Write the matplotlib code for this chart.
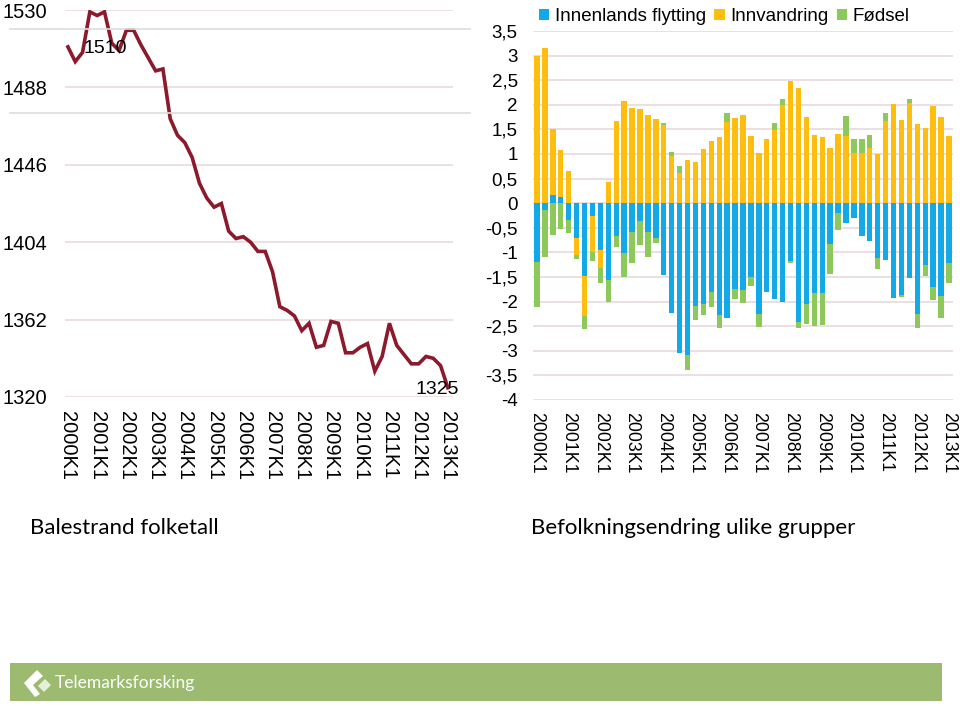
import numpy as np
import matplotlib.pyplot as plt
from matplotlib.lines import Line2D
from matplotlib.patches import Rectangle, Polygon

# quarters 2000K1 .. 2013K1
quarters = [f"{y}K{q}" for y in range(2000, 2014) for q in range(1, 5)][:53]

folketall = [1510, 1502, 1507, 1529, 1527, 1529, 1512, 1508, 1519, 1519,
             1511, 1504, 1497, 1498, 1471, 1462, 1458, 1450, 1436, 1428,
             1423, 1425, 1410, 1406, 1407, 1404, 1399, 1399, 1388, 1369,
             1367, 1364, 1356, 1360, 1347, 1348, 1361, 1360, 1344, 1344,
             1347, 1349, 1334, 1342, 1360, 1348, 1343, 1338, 1338, 1342,
             1341, 1337, 1325]

innenlands = [-1.19, -0.13, 0.16, 0.13, -0.34, -0.70, -1.48, -0.26, -0.95, -1.56,
              -0.67, -1.02, -0.58, -0.36, -0.58, -0.70, -1.46, -2.24, -3.05, -3.08,
              -2.09, -2.05, -1.80, -2.27, -2.34, -1.75, -1.76, -1.49, -2.25, -1.80,
              -1.95, -2.00, -1.18, -2.41, -2.05, -1.82, -1.82, -0.82, -0.20, -0.40,
              -0.31, -0.67, -0.76, -1.12, -1.16, -1.93, -1.86, -1.53, -2.25, -1.26,
              -1.71, -1.89, -1.22]
innvandring = [2.99, 3.15, 1.35, 0.96, 0.65, -0.35, -0.82, -0.73, -0.37, 0.43,
               1.68, 2.07, 1.94, 1.91, 1.80, 1.71, 1.58, 0.95, 0.61, 0.87,
               0.84, 1.11, 1.26, 1.34, 1.65, 1.74, 1.80, 1.36, 1.03, 1.30,
               1.48, 2.00, 2.49, 2.34, 1.76, 1.39, 1.34, 1.13, 1.40, 1.36,
               1.03, 1.03, 1.12, 0.99, 1.67, 2.02, 1.70, 2.03, 1.60, 1.53,
               1.97, 1.75, 1.36]
fodsel = [-0.91, -0.96, -0.65, -0.53, -0.27, -0.09, -0.25, -0.19, -0.31, -0.45,
          -0.22, -0.49, -0.63, -0.48, -0.51, -0.10, 0.06, 0.10, 0.14, -0.31,
          -0.28, -0.22, -0.30, -0.27, 0.18, -0.20, -0.27, -0.19, -0.27, 0.0,
          0.15, 0.12, -0.04, -0.12, -0.40, -0.67, -0.65, -0.62, -0.35, 0.41,
          0.28, 0.28, 0.27, -0.22, 0.17, 0.0, -0.04, 0.09, -0.29, -0.22,
          -0.26, -0.45, -0.41]

series = [("Innenlands flytting", innenlands, "#12A9E6"),
          ("Innvandring", innvandring, "#FDBE10"),
          ("Fødsel", fodsel, "#8DC85A")]

plt.rcParams['font.family'] = ['Liberation Sans', 'DejaVu Sans']

fig = plt.figure(figsize=(9.6, 7.07), dpi=100)
W, H = 960, 707


def box(x0, y0, x1, y1):
    return [x0 / W, 1 - y1 / H, (x1 - x0) / W, (y1 - y0) / H]


# ---- left: folketall line
ax1 = fig.add_axes(box(65, 10, 453, 397))
x = np.arange(len(folketall))
ax1.plot(x, folketall, color="#8B1A2C", lw=2.6, solid_joinstyle='miter')
ax1.set_xlim(-0.4, 52.7)
ax1.set_ylim(1320, 1530)
ax1.set_yticks(np.arange(1320, 1531, 42))
ax1.set_xticks(x[::4])
ax1.set_xticklabels(quarters[::4], rotation=270, fontsize=14.5)
ax1.tick_params(axis='y', labelsize=14.5, pad=13)
ax1.tick_params(length=0)
ax1.tick_params(axis='x', pad=10)
ax1.grid(axis='y', color="#EBD9DE", lw=1.2)
ax1.set_axisbelow(True)
for s in ax1.spines.values():
    s.set_visible(False)
ax1.annotate(str(folketall[0]), (0, folketall[0]), xytext=(37, -2),
             textcoords='offset pixels', ha='center', va='center', fontsize=14)
ax1.annotate(str(folketall[-1]), (52, folketall[-1]), xytext=(-11, -2),
             textcoords='offset pixels', ha='center', va='center', fontsize=14)

# ---- right: stacked bars
ax2 = fig.add_axes(box(533, 31, 953, 400))
xb = np.arange(len(innenlands))
pos_base = np.zeros(len(xb))
neg_base = np.zeros(len(xb))
for name, vals, col in series:
    v = np.array(vals)
    bottom = np.where(v >= 0, pos_base, neg_base)
    ax2.bar(xb, v, bottom=bottom, width=0.68, color=col, label=name)
    pos_base = pos_base + np.clip(v, 0, None)
    neg_base = neg_base + np.clip(v, None, 0)
ax2.set_xlim(-0.5, 52.5)
ax2.set_ylim(-4, 3.5)
yt = np.arange(-4, 3.51, 0.5)
ax2.set_yticks(yt)
ax2.set_yticklabels([f"{t:g}".replace('.', ',') for t in yt])
ax2.set_xticks(xb[::4])
ax2.set_xticklabels(quarters[::4], rotation=270, fontsize=12.8)
ax2.tick_params(axis='y', labelsize=13.5, pad=11)
ax2.tick_params(length=0)
ax2.tick_params(axis='x', pad=9)
ax2.grid(axis='y', color="#E6D9DD", lw=1.2)
ax2.set_axisbelow(True)
for s in ax2.spines.values():
    s.set_visible(False)
ax2.legend(loc='lower left', bbox_to_anchor=(0.005, 1.005), ncol=3, frameon=False,
           fontsize=13.5, handlelength=0.55, handleheight=0.55,
           handletextpad=0.3, columnspacing=0.45, borderaxespad=0.2,
           borderpad=0.0)

# faint stray lines seen in the left panel
for yy in (29, 113):
    fig.add_artist(Line2D([10 / W, 470 / W], [1 - yy / H, 1 - yy / H],
                          color="#DDDDDD", lw=1.2))

# titles
fig.text(30 / W, 1 - 528 / H, "Balestrand folketall", family='Lato',
         fontsize=16, va='center')
fig.text(531 / W, 1 - 528 / H, "Befolkningsendring ulike grupper",
         family='Lato', fontsize=16, va='center')

# footer band
fig.add_artist(Rectangle((10 / W, 1 - 701 / H), 932 / W, 38 / H,
                         color="#9CBB70", lw=0))
fig.add_artist(Polygon([(24 / W, 1 - 683 / H), (37 / W, 1 - 670 / H),
                        (43 / W, 1 - 676 / H), (33 / W, 1 - 685 / H),
                        (40 / W, 1 - 694 / H), (35 / W, 1 - 697 / H)],
                       closed=True, color="white", lw=0))
fig.add_artist(Polygon([(38 / W, 1 - 686 / H), (45 / W, 1 - 679 / H),
                        (51 / W, 1 - 685 / H), (44 / W, 1 - 692 / H)],
                       closed=True, color="#E4EED8", lw=0))
fig.text(55 / W, 1 - 683 / H, "Telemarksforsking", family='Lato',
         fontsize=12.5, color="white", va='center')

fig.savefig("out.png", dpi=100)
